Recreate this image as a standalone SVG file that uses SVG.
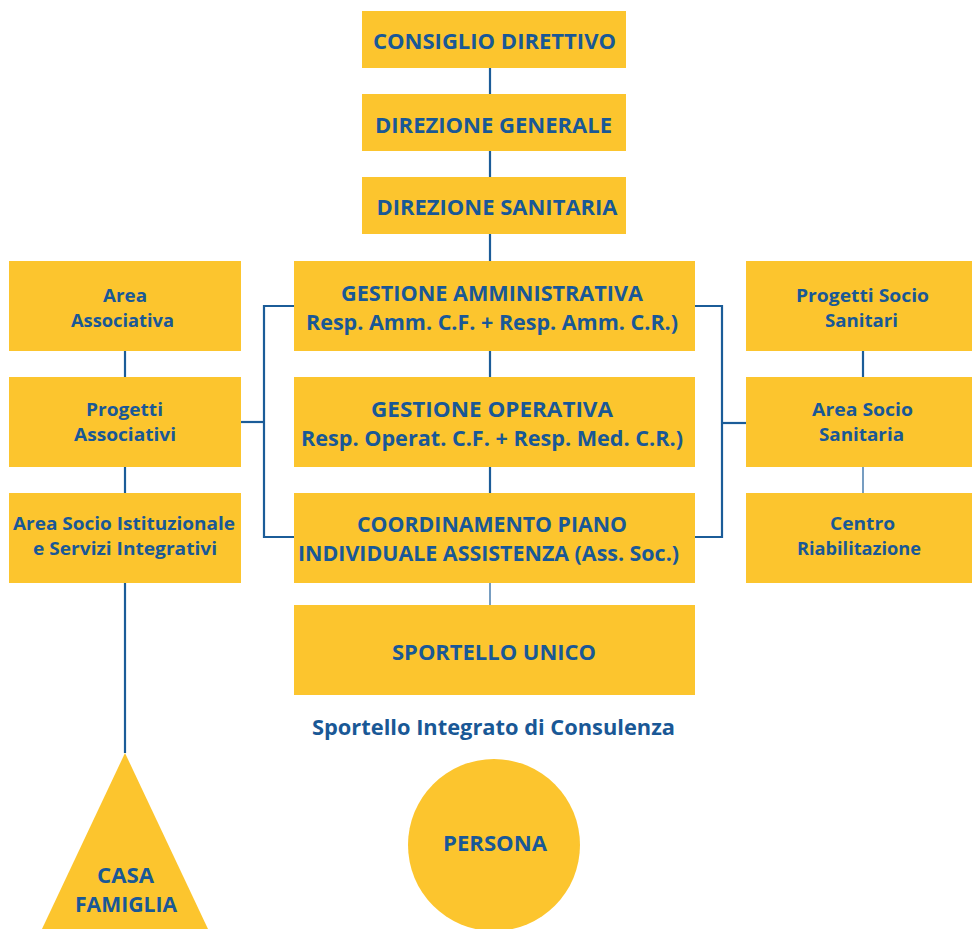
<svg xmlns="http://www.w3.org/2000/svg" width="972" height="929" viewBox="0 0 972 929">
<style>
.box{fill:#FCC52E}
.t{font-family:"Open Sans","Liberation Sans",sans-serif;font-weight:bold;fill:#195896;text-anchor:middle}
.l{font-size:22px}
.m{font-size:21.5px}
.s{font-size:18.5px}
.ln{stroke:#1B5C98;stroke-width:2.2;fill:none}
</style>
<rect width="972" height="929" fill="#fff"/>
<g id="connectors">
<line class="ln" x1="490" y1="68" x2="490" y2="94"/>
<line class="ln" x1="490" y1="151" x2="490" y2="177"/>
<line class="ln" x1="490" y1="234" x2="490" y2="261"/>
<line class="ln" x1="490" y1="351" x2="490" y2="377"/>
<line class="ln" x1="490" y1="467" x2="490" y2="493"/>
<line class="ln" x1="490" y1="583" x2="490" y2="605" style="stroke-width:1.2"/>
<polyline class="ln" points="294,306 264,306 264,537 294,537"/>
<line class="ln" x1="241" y1="422" x2="264" y2="422"/>
<polyline class="ln" points="695,306 722,306 722,537 695,537"/>
<line class="ln" x1="722" y1="423" x2="746" y2="423"/>
<line class="ln" x1="125" y1="351" x2="125" y2="377"/>
<line class="ln" x1="125" y1="467" x2="125" y2="493"/>
<line class="ln" x1="125" y1="583" x2="125" y2="753"/>
<line class="ln" x1="863" y1="351" x2="863" y2="377"/>
<line class="ln" x1="863" y1="467" x2="863" y2="493" style="stroke-width:1.2"/>
</g>
<g id="consiglio"><rect class="box" x="362" y="11" width="264" height="57"/><text class="t l" x="494.5" y="49" textLength="243" lengthAdjust="spacingAndGlyphs">CONSIGLIO DIRETTIVO</text></g>
<g id="direzione-generale"><rect class="box" x="362" y="94" width="264" height="57"/><text class="t l" x="493.5" y="133" textLength="237" lengthAdjust="spacingAndGlyphs">DIREZIONE GENERALE</text></g>
<g id="direzione-sanitaria"><rect class="box" x="362" y="177" width="264" height="57"/><text class="t l" x="497" y="215" textLength="241" lengthAdjust="spacingAndGlyphs">DIREZIONE SANITARIA</text></g>
<g id="gestione-amm"><rect class="box" x="294" y="261" width="401" height="90"/><text class="t m" x="492" y="301" textLength="302" lengthAdjust="spacingAndGlyphs">GESTIONE AMMINISTRATIVA</text><text class="t m" x="492" y="330" textLength="372" lengthAdjust="spacingAndGlyphs">Resp. Amm. C.F. + Resp. Amm. C.R.)</text></g>
<g id="gestione-op"><rect class="box" x="294" y="377" width="401" height="90"/><text class="t m" x="492" y="417" textLength="242" lengthAdjust="spacingAndGlyphs">GESTIONE OPERATIVA</text><text class="t m" x="492" y="446" textLength="382" lengthAdjust="spacingAndGlyphs">Resp. Operat. C.F. + Resp. Med. C.R.)</text></g>
<g id="coordinamento"><rect class="box" x="294" y="493" width="401" height="90"/><text class="t m" x="492" y="532" textLength="270" lengthAdjust="spacingAndGlyphs">COORDINAMENTO PIANO</text><text class="t m" x="488.5" y="561" textLength="381" lengthAdjust="spacingAndGlyphs">INDIVIDUALE ASSISTENZA (Ass. Soc.)</text></g>
<g id="sportello-unico"><rect class="box" x="294" y="605" width="401" height="90"/><text class="t m" x="494" y="660" textLength="204" lengthAdjust="spacingAndGlyphs">SPORTELLO UNICO</text></g>
<g id="sportello-integrato"><text class="t m" x="493.5" y="735" textLength="363" lengthAdjust="spacingAndGlyphs">Sportello Integrato di Consulenza</text></g>
<g id="persona"><circle class="box" cx="494" cy="845" r="86"/><text class="t m" x="495" y="851" textLength="104" lengthAdjust="spacingAndGlyphs">PERSONA</text></g>
<g id="area-associativa"><rect class="box" x="9" y="261" width="232" height="90"/><text class="t s" x="125" y="302" textLength="44" lengthAdjust="spacingAndGlyphs">Area</text><text class="t s" x="122.5" y="327" textLength="103" lengthAdjust="spacingAndGlyphs">Associativa</text></g>
<g id="progetti-associativi"><rect class="box" x="9" y="377" width="232" height="90"/><text class="t s" x="124.5" y="416" textLength="77" lengthAdjust="spacingAndGlyphs">Progetti</text><text class="t s" x="125" y="441" textLength="102" lengthAdjust="spacingAndGlyphs">Associativi</text></g>
<g id="area-socio-ist"><rect class="box" x="9" y="493" width="232" height="90"/><text class="t s" x="124" y="530" textLength="222" lengthAdjust="spacingAndGlyphs">Area Socio Istituzionale</text><text class="t s" x="125" y="555" textLength="184" lengthAdjust="spacingAndGlyphs">e Servizi Integrativi</text></g>
<g id="progetti-socio-sanitari"><rect class="box" x="746" y="261" width="226" height="90"/><text class="t s" x="862.5" y="302" textLength="133" lengthAdjust="spacingAndGlyphs">Progetti Socio</text><text class="t s" x="861.5" y="327" textLength="73" lengthAdjust="spacingAndGlyphs">Sanitari</text></g>
<g id="area-socio-sanitaria"><rect class="box" x="746" y="377" width="226" height="90"/><text class="t s" x="862.5" y="416" textLength="101" lengthAdjust="spacingAndGlyphs">Area Socio</text><text class="t s" x="861.5" y="441" textLength="85" lengthAdjust="spacingAndGlyphs">Sanitaria</text></g>
<g id="centro-riabilitazione"><rect class="box" x="746" y="493" width="226" height="90"/><text class="t s" x="862.5" y="530" textLength="65" lengthAdjust="spacingAndGlyphs">Centro</text><text class="t s" x="859" y="555" textLength="124" lengthAdjust="spacingAndGlyphs">Riabilitazione</text></g>
<g id="casa-famiglia"><polygon class="box" points="125,753 208,929 42,929"/><text class="t m" x="125.5" y="883" textLength="57" lengthAdjust="spacingAndGlyphs">CASA</text><text class="t m" x="126" y="912" textLength="102" lengthAdjust="spacingAndGlyphs">FAMIGLIA</text></g>
</svg>
